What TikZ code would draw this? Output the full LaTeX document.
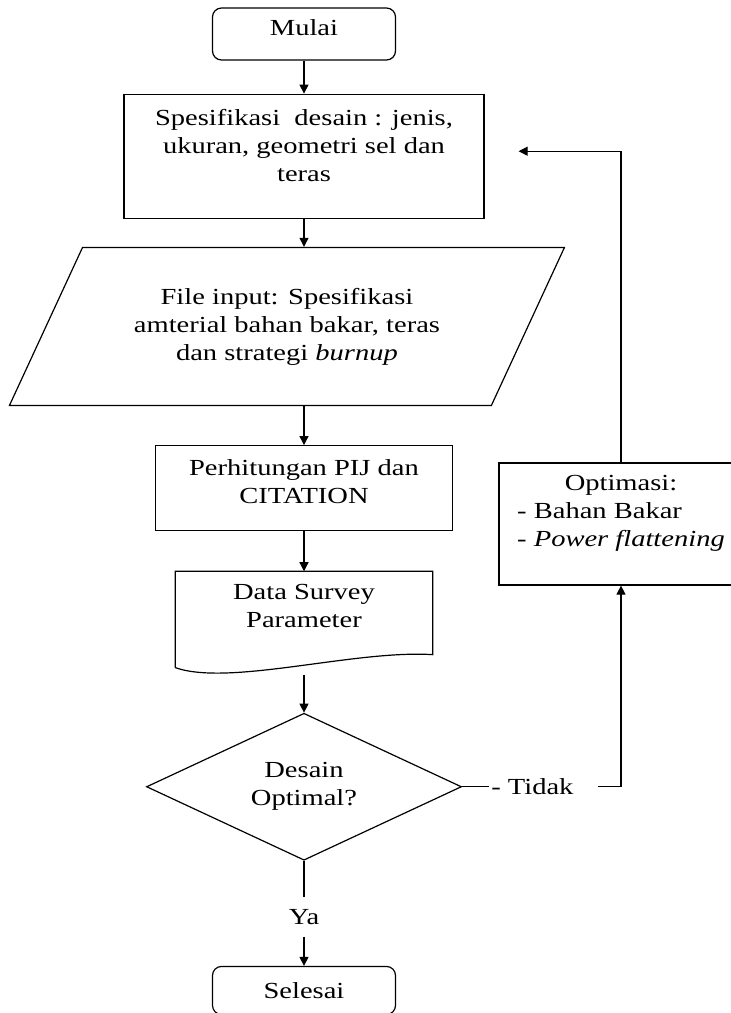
\documentclass[tikz,border=0pt]{standalone}
\usepackage{fontspec}
\setmainfont{Liberation Serif}[FakeStretch=1.24]
\usepackage{tikz}
\usetikzlibrary{arrows.meta,positioning,shapes.geometric}
\tikzset{
  term/.style={rounded corners=9pt,draw,line width=1.2pt,align=center,inner sep=2pt,minimum width=183pt,minimum height=52pt},
  proc/.style={draw,line width=1.2pt,align=center,inner sep=2pt},
  inbox/.style={trapezium,trapezium left angle=48,trapezium right angle=132,trapezium stretches body,draw,line width=1.2pt,align=center,inner sep=2pt},
  docbox/.style={align=center,inner sep=2pt},
  decide/.style={diamond,aspect=2.14,draw,line width=1.2pt,align=center,inner sep=0pt,minimum width=315pt,minimum height=147pt},
  lbl/.style={inner sep=2pt},
  ln/.style={line width=1.2pt},
  ar/.style={-{Triangle[length=9pt,width=9pt]},ln},
}
\begin{document}
\begin{tikzpicture}[x=1pt,y=1pt,font=\fontsize{23}{28}\selectfont]
  \useasboundingbox (0,0) rectangle (731,-1013);
  \clip (0,0) rectangle (731,-1013);
  \node[term] (mulai) at (304,-34) {Mulai\\[-16pt]\mbox{}};
  \node[proc,below=33pt of mulai,minimum width=360pt,minimum height=124pt] (spec) {Spesifikasi\ \ desain : jenis,\\ukuran, geometri sel dan\\teras\\[-6pt]\mbox{}};
  \node[inbox,below=28pt of spec,xshift=-17pt,minimum width=555pt,minimum height=158pt] (input) {File input: Spesifikasi\\amterial bahan bakar, teras\\dan strategi \textit{burnup}};
  \node[proc,below=39pt of input,xshift=17pt,minimum width=297pt,minimum height=85pt] (pij) {Perhitungan PIJ dan\\CITATION\\[-14pt]\mbox{}};
  \node[docbox,below=40pt of pij,minimum width=257pt,minimum height=83pt] (data) {Data Survey\\Parameter\\[-14pt]\mbox{}};
  \node[decide,below=58pt of data] (cek) {Desain\\Optimal?};
  \node[lbl,right=27pt of cek] (tidak) {- Tidak};
  \node[proc,minimum width=244pt,minimum height=122pt] (opt) at (621,-524) {\begin{tabular}{@{}l@{}}\multicolumn{1}{@{}c@{}}{Optimasi:}\\- Bahan Bakar\\- \textit{Power flattening}\\[-5pt]\mbox{}\end{tabular}};
  \node[lbl,inner ysep=12pt] (ya) at ([yshift=-56pt]cek.south) {Ya};
  \node[term,anchor=north,minimum height=48pt] (selesai) at ([yshift=-105pt]cek.south) {Selesai};
  % lembar data
  \draw[ln] ([yshift=-13pt]data.south west) -- (data.north west) -- (data.north east) -- (data.south east)
    .. controls ([xshift=-78pt,yshift=5pt]data.south east) and ([xshift=54pt,yshift=-32pt]data.south west) .. ([yshift=-13pt]data.south west);
  \coordinate (dataout) at ([yshift=-20pt]data.south);
  \coordinate (tidakend) at ([xshift=22pt]tidak.east);
  \coordinate (backin) at ([xshift=34pt,yshift=5pt]spec.east);
  \draw[ar] (mulai)--(spec);
  \draw[ar] (spec)--(spec |- input.north);
  \draw[ar] (pij |- input.south)--(pij);
  \draw[ar] (pij)--(data);
  \draw[ar] (dataout)--(cek);
  \draw[ln] (cek.east)--(tidak.west);
  \draw[ar] (tidakend) -| (opt.south);
  \draw[ar] (opt.north) |- (backin);
  \draw[ln] (cek.south)--(ya);
  \draw[ar] (ya)--(selesai);
\end{tikzpicture}
\end{document}
